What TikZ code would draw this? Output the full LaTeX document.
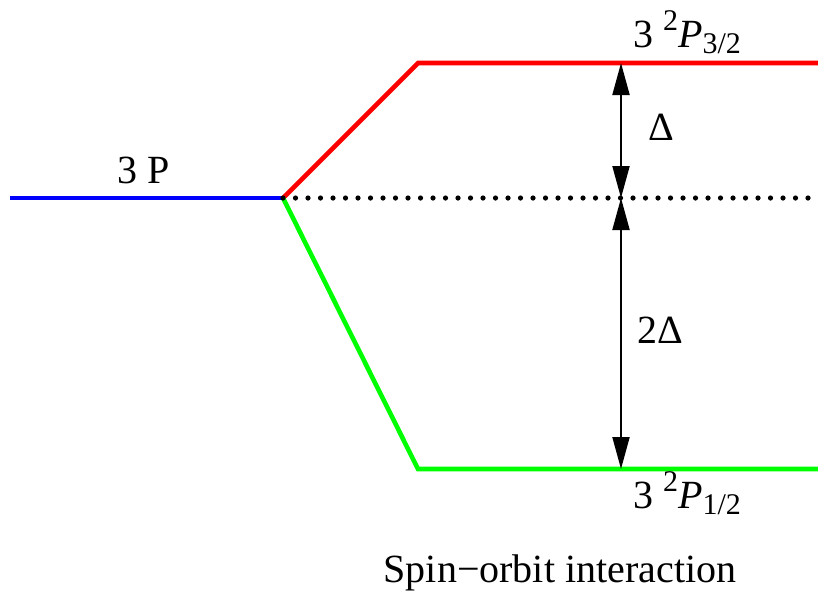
\documentclass[tikz,border=0pt]{standalone}
\usepackage{fontspec}
\setmainfont{Liberation Serif}
\usetikzlibrary{arrows.meta, positioning, calc}
% termine spettroscopico 3 ^2P_j
\newcommand{\idx}[1]{{\fontsize{15}{15}\selectfont #1}}
\newcommand{\termP}[1]{3 \raisebox{0.42em}{\idx{2}}\textit{P}\raisebox{-0.15em}{\idx{#1}}}

\begin{document}
\begin{tikzpicture}[x=0.5pt, y=-0.5pt,
    every node/.style={font=\fontsize{20}{24}\selectfont, inner sep=0pt},
    level/.style={line width=2.3pt},
    gap/.style={line width=1pt, {Triangle[length=16pt,width=8.5pt]}-{Triangle[length=16pt,width=8.5pt]}}]
    \useasboundingbox (0,0) rectangle (818,596);

    % punti di riferimento
    \coordinate (start) at (10,198);
    \coordinate (split) at (283,198);
    \coordinate (upK) at (418,63);
    \coordinate (upEnd) at (818,63);
    \coordinate (loK) at (418,469);
    \coordinate (loEnd) at (818,469);
    \coordinate (midEnd) at (818,198);

    % livello non separato
    \draw[level, blue] (start) -- (split);
    \node[anchor=base] (lP) at (144,183) {3 P};

    % livelli separati
    \draw[level, red] (split) -- (upK) -- (upEnd);
    \draw[level, green] (split) -- (loK) -- (loEnd);
    \draw[line width=2.6pt, line cap=round, dash pattern=on 0pt off 6.25pt] (split) -- (midEnd);

    \node[anchor=base] (lUp) at (687,47) {\termP{3/2}};
    \node[anchor=base] (lLo) at (687,508) {\termP{1/2}};

    % frecce di separazione
    \coordinate (dTop) at (621,63);
    \coordinate (dMid) at (621,198);
    \coordinate (dBot) at (621,469);
    \draw[gap] (dMid) -- (dTop);
    \draw[gap] (dMid) -- (dBot);
    \node[anchor=base] (lD) at (661,140) {Δ};
    \node[anchor=base] (lDD) at (660,343) {2Δ};

    %didascalia
    \node[anchor=base] (cap) at (560,582) {Spin−orbit interaction};
\end{tikzpicture}
\end{document}
